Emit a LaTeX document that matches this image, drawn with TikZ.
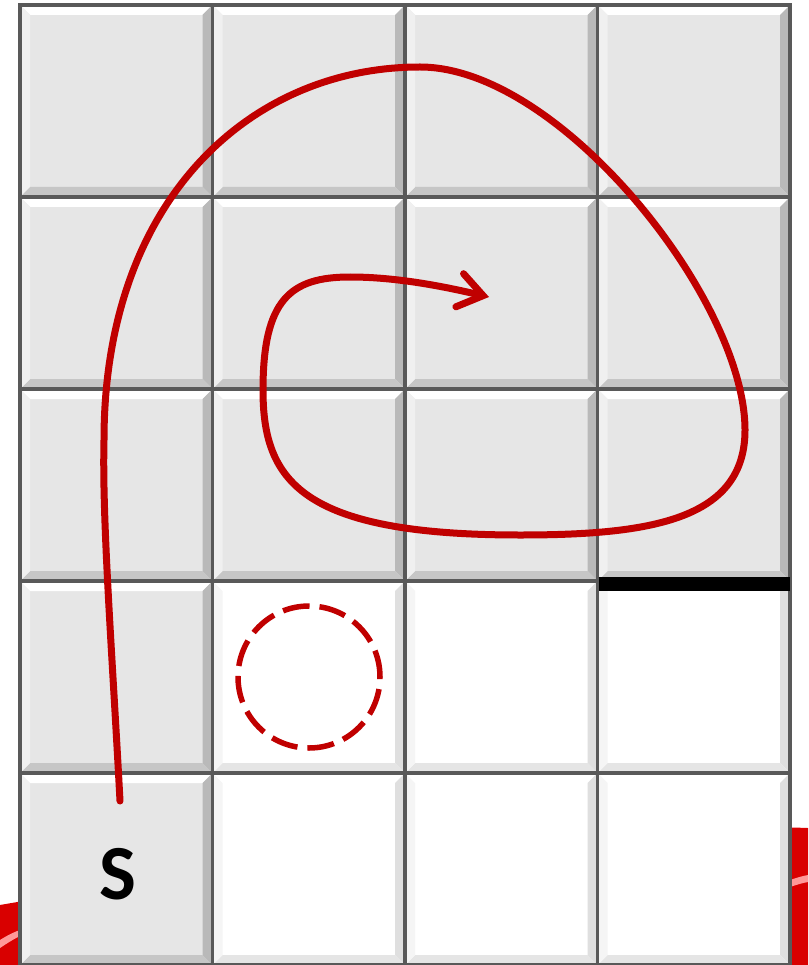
\documentclass[tikz,border=0pt]{standalone}
\usepackage{fontspec}
\setsansfont{Carlito}
\usetikzlibrary{arrows.meta}

\definecolor{routered}{HTML}{C00000}
\definecolor{tileface}{HTML}{E6E6E6}
\definecolor{tileedge}{HTML}{595959}

\begin{document}
\begin{tikzpicture}[x=1pt, y=-1pt]
\tikzset{
  face/.style={fill=tileface},
  blank/.style={fill=white},
  route/.style={draw=routered, line width=7pt, line cap=round, line join=round},
  pit/.style={draw=routered, line width=5.5pt, dash pattern=on 27pt off 10pt},
  wall/.style={line width=14pt, black},
}
\useasboundingbox (0,0) rectangle (808,965);

% red blob behind the board
\fill[red!85!black] (0,905) .. controls (200,870) and (600,820) .. (808,828) -- (808,965) -- (0,965) -- cycle;
\fill[red!40!white] (0,940) .. controls (8,935) and (14,932) .. (20,930) -- (20,936) .. controls (12,940) and (6,944) .. (0,948) -- cycle;
\fill[red!40!white] (790,880) .. controls (796,878) and (802,876) .. (808,875) -- (808,882) .. controls (802,883) and (796,885) .. (790,887) -- cycle;

% tiles
\foreach \col in {0,...,3}
  \foreach \row in {0,...,4} {
    \pgfmathsetmacro{\xa}{20+\col*192.5}
    \pgfmathsetmacro{\ya}{5+\row*192}
    \pgfmathsetmacro{\xb}{\xa+192.5}
    \pgfmathsetmacro{\yb}{\ya+192}
    \pgfmathtruncatemacro{\isblank}{(\row>2)&&(\col>0)}
    \ifnum\isblank=1
      \fill[blank] (\xa,\ya) rectangle (\xb,\yb);
      \fill[white] (\xa,\ya) -- (\xb,\ya) -- (\xb-10,\ya+10) -- (\xa+10,\ya+10) -- cycle;
      \fill[gray!25] (\xb,\ya) -- (\xb,\yb) -- (\xb-10,\yb-10) -- (\xb-10,\ya+10) -- cycle;
      \fill[gray!20] (\xa,\yb) -- (\xb,\yb) -- (\xb-10,\yb-10) -- (\xa+10,\yb-10) -- cycle;
      \fill[gray!8] (\xa,\ya) -- (\xa+10,\ya+10) -- (\xa+10,\yb-10) -- (\xa,\yb) -- cycle;
    \else
      \fill[face] (\xa,\ya) rectangle (\xb,\yb);
      \fill[white] (\xa,\ya) -- (\xb,\ya) -- (\xb-10,\ya+10) -- (\xa+10,\ya+10) -- cycle;
      \fill[gray!55] (\xb,\ya) -- (\xb,\yb) -- (\xb-10,\yb-10) -- (\xb-10,\ya+10) -- cycle;
      \fill[gray!45] (\xa,\yb) -- (\xb,\yb) -- (\xb-10,\yb-10) -- (\xa+10,\yb-10) -- cycle;
      \fill[gray!12] (\xa,\ya) -- (\xa+10,\ya+10) -- (\xa+10,\yb-10) -- (\xa,\yb) -- cycle;
    \fi
    \draw[tileedge, line width=3.5pt] (\xa,\ya) rectangle (\xb,\yb);
  }

% wall
\coordinate (wallL) at (598.5,584);
\coordinate (wallR) at (790,584);
\draw[wall] (wallL) -- (wallR);

% start label
\node (start) at (118,874) {\sffamily\bfseries\fontsize{78}{78}\selectfont S};

% pit
\node (pit) [circle, minimum size=142pt, pit] at (309,677) {};

% route
\coordinate (begin) at (120,801);
\coordinate (goal) at (489,297);
\draw[route, -{Straight Barb[length=24pt, width=34pt, line cap=round]}]
  (begin) .. controls (112,650) and (102,520) .. (104,440)
          .. controls (104,200) and (250,67) .. (420,67)
          .. controls (560,67) and (745,300) .. (745,430)
          .. controls (745,520) and (650,535) .. (520,535)
          .. controls (300,535) and (263,480) .. (263,390)
          .. controls (263,300) and (290,277) .. (350,277)
          .. controls (400,277) and (450,288) .. (goal);

\end{tikzpicture}
\end{document}
